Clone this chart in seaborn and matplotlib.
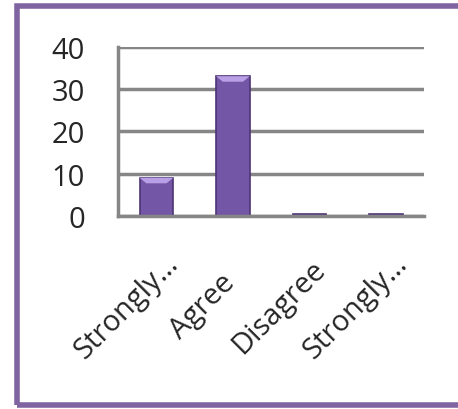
import seaborn as sns
import pandas as pd
import matplotlib
matplotlib.use("Agg")
import matplotlib.pyplot as plt
from matplotlib.patches import Rectangle, Polygon
import matplotlib.transforms as mtransforms

# data
categories = ["Strongly…", "Agree", "Disagree", "Strongly…"]
values = [9, 33, 0.5, 0.5]
y_ticks = [0, 10, 20, 30, 40]

df = pd.DataFrame({"cat": range(len(categories)), "val": values})

sns.set_style("white")
plt.rcParams["font.family"] = ["Open Sans", "DejaVu Sans"]

fig = plt.figure(figsize=(4.58, 4.10), dpi=100)
ax = fig.add_axes([0.258, 0.471, 0.668, 0.413])

sns.barplot(x="cat", y="val", data=df, ax=ax, color="#7357a6",
            width=0.44, edgecolor="#4e3575", linewidth=1.2, saturation=1)

# lighter cap on top of the taller bars, taken from the bar geometry
for bar in ax.patches:
    h = bar.get_height()
    if h < 2:
        continue
    x0 = bar.get_x()
    w = bar.get_width()
    cap = Polygon([(x0, h), (x0 + w, h), (x0 + w * 0.8, h - 1.3), (x0 + w * 0.2, h - 1.3)],
                  closed=True, facecolor="#b9a0e6", edgecolor="none", zorder=bar.get_zorder() + 0.1)
    ax.add_patch(cap)

ax.set_ylim(0, 40)
ax.set_xlim(-0.5, 3.5)
ax.set_yticks(y_ticks)
ax.set_yticklabels([str(t) for t in y_ticks], fontsize=21)
ax.yaxis.grid(True, color="#868686", linewidth=2.5)
ax.set_axisbelow(True)

# category boundaries as tick marks
ax.set_xticks([-0.5, 0.5, 1.5, 2.5, 3.5], minor=False)
ax.set_xticklabels([])
ax.tick_params(axis="x", which="major", length=10, width=2.5, color="#868686", direction="out")
ax.set_xticks(range(len(categories)), minor=True)
ax.set_xticklabels(categories, minor=True, rotation=45, ha="center", va="center",
                   rotation_mode="anchor", fontsize=21)
ax.tick_params(axis="x", which="minor", length=0, pad=65)
ax.tick_params(axis="y", length=10, width=2.5, color="#868686", direction="out", pad=14)

# labels sit left of the category centre, as in the reference
shift = mtransforms.ScaledTranslation(-30 / 100, 0, fig.dpi_scale_trans)
for lbl in ax.get_xticklabels(minor=True):
    lbl.set_transform(lbl.get_transform() + shift)

for side in ["top", "right"]:
    ax.spines[side].set_visible(False)
for side in ["left", "bottom"]:
    ax.spines[side].set_color("#868686")
    ax.spines[side].set_linewidth(2.5)

ax.set_xlabel("")
ax.set_ylabel("")

# purple outer frame
fig.patches.append(Rectangle((16.5 / 458, 4.5 / 410), 460 / 458, 399 / 410,
                             transform=fig.transFigure, fill=False,
                             edgecolor="#8064a2", linewidth=4))

fig.savefig("out.png", dpi=100)
